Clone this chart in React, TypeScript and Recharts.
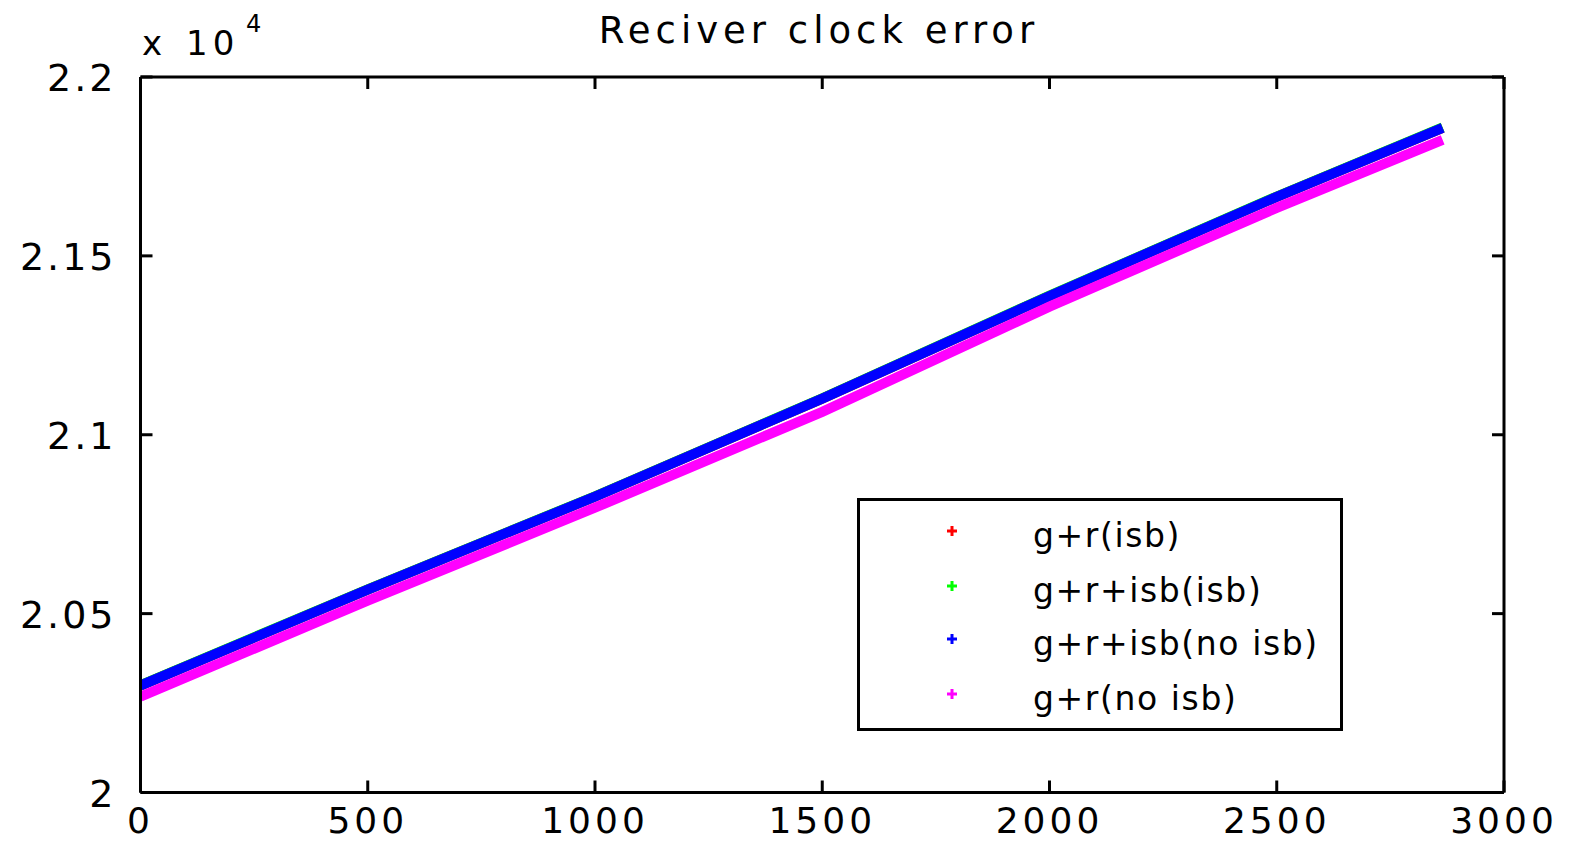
import React from "react";
import { LineChart, Line, XAxis, YAxis, Legend } from "recharts";

// Epochs (s) and receiver clock error estimates (m) for each processing mode
const epochs = [0, 500, 1000, 1500, 2000, 2500, 2865];
const grIsb = [20299, 20567, 20827, 21101, 21388, 21665, 21858];
const grIsbIsb = [20300, 20568, 20828, 21102, 21389, 21666, 21859];
const grIsbNoIsb = [20299, 20567, 20827, 21101, 21388, 21665, 21858];
const grNoIsb = [20268, 20536, 20796, 21064, 21358, 21634, 21824];

const xTicks = [0, 500, 1000, 1500, 2000, 2500, 3000];
const yTicks = [20000, 20500, 21000, 21500, 22000];
const yTickLabels = ["2", "2.05", "2.1", "2.15", "2.2"];

const seriesNames = ["g+r(isb)", "g+r+isb(isb)", "g+r+isb(no isb)", "g+r(no isb)"];
const seriesColors = ["#ff0000", "#00ff00", "#0000ff", "#ff00ff"];

const data = epochs.map((t, i) => ({
  t,
  a: grIsb[i],
  b: grIsbIsb[i],
  c: grIsbNoIsb[i],
  d: grNoIsb[i],
}));

const FONT = "'DejaVu Sans', sans-serif";
const TICK = 12;

const LeftTick = (props: any) => {
  const { x, y, payload } = props;
  const idx = yTicks.indexOf(payload.value);
  return (
    <g>
      <line x1={x} x2={x + TICK} y1={y} y2={y} stroke="#000" strokeWidth={3} />
      <text x={x - 24} y={y + 14} textAnchor="end" fontFamily={FONT} fontSize={38} letterSpacing={3} fill="#000">
        {idx >= 0 ? yTickLabels[idx] : ""}
      </text>
    </g>
  );
};

const RightTick = (props: any) => {
  const { x, y } = props;
  return <line x1={x - TICK} x2={x} y1={y} y2={y} stroke="#000" strokeWidth={3} />;
};

const BottomTick = (props: any) => {
  const { x, y, payload } = props;
  return (
    <g>
      <line x1={x} x2={x} y1={y} y2={y - TICK} stroke="#000" strokeWidth={3} />
      <text x={x} y={y + 40} textAnchor="middle" fontFamily={FONT} fontSize={36} letterSpacing={4} fill="#000">
        {payload.value}
      </text>
    </g>
  );
};

const TopTick = (props: any) => {
  const { x, y } = props;
  return <line x1={x} x2={x} y1={y} y2={y + TICK} stroke="#000" strokeWidth={3} />;
};

const LegendBox = (props: any) => {
  const items = (props.payload || []).slice();
  items.sort((p: any, q: any) => seriesNames.indexOf(p.value) - seriesNames.indexOf(q.value));
  const baselines = [49, 104, 157, 212];
  return (
    <svg width={486} height={233} style={{ display: "block" }}>
      <rect x={1.5} y={1.5} width={483} height={230} fill="#fff" stroke="#000" strokeWidth={3} />
      {items.map((it: any, i: number) => (
        <g key={i}>
          <line x1={90} x2={100} y1={baselines[i] - 16} y2={baselines[i] - 16} stroke={it.color} strokeWidth={3} />
          <line x1={95} x2={95} y1={baselines[i] - 21} y2={baselines[i] - 11} stroke={it.color} strokeWidth={3} />
          <text x={176} y={baselines[i]} fontFamily={FONT} fontSize={33} letterSpacing={1.6} fill="#000">
            {it.value}
          </text>
        </g>
      ))}
    </svg>
  );
};

const axisLineStyle = { stroke: "#000", strokeWidth: 3 };

export default function App() {
  return (
    <div style={{ position: "absolute", left: 0, top: 0, width: 1574, height: 841, background: "#fff" }}>
      <svg width={1574} height={841} style={{ position: "absolute", left: 0, top: 0 }}>
        <text x={819} y={43} textAnchor="middle" fontFamily={FONT} fontSize={37} letterSpacing={5} fill="#000">
          Reciver clock error
        </text>
        <text x={142} y={55} fontFamily={FONT} fontSize={34} fill="#000">
          x
        </text>
        <text x={186} y={55} fontFamily={FONT} fontSize={34} letterSpacing={5} fill="#000">
          10
        </text>
        <text x={246} y={32} fontFamily={FONT} fontSize={24} fill="#000">
          4
        </text>
      </svg>
      <div style={{ position: "absolute", left: 0, top: 0 }}>
        <LineChart
          width={1574}
          height={841}
          data={data}
          margin={{ top: 47, left: 80.5, right: 10, bottom: 18.5 }}
        >
          <XAxis
            dataKey="t"
            type="number"
            domain={[0, 3000]}
            ticks={xTicks}
            interval={0}
            height={30}
            tickSize={0}
            tickMargin={0}
            tickLine={false}
            axisLine={axisLineStyle}
            tick={<BottomTick />}
            allowDataOverflow
          />
          <XAxis
            xAxisId="top"
            orientation="top"
            dataKey="t"
            type="number"
            domain={[0, 3000]}
            ticks={xTicks}
            interval={0}
            height={30}
            tickSize={0}
            tickMargin={0}
            tickLine={false}
            axisLine={axisLineStyle}
            tick={<TopTick />}
            allowDataOverflow
          />
          <YAxis
            type="number"
            domain={[20000, 22000]}
            ticks={yTicks}
            interval={0}
            width={60}
            tickSize={0}
            tickMargin={0}
            tickLine={false}
            axisLine={axisLineStyle}
            tick={<LeftTick />}
            allowDataOverflow
          />
          <YAxis
            yAxisId="right"
            orientation="right"
            type="number"
            domain={[20000, 22000]}
            ticks={yTicks}
            interval={0}
            width={60}
            tickSize={0}
            tickMargin={0}
            tickLine={false}
            axisLine={axisLineStyle}
            tick={<RightTick />}
            allowDataOverflow
          />
          {["a", "b", "c", "d"].map((k, i) => (
            <Line
              key={k}
              dataKey={k}
              name={seriesNames[i]}
              stroke={seriesColors[i]}
              strokeWidth={10}
              dot={false}
              activeDot={false}
              type="linear"
              isAnimationActive={false}
            />
          ))}
          <Legend
            layout="horizontal"
            verticalAlign="middle"
            align="center"
            content={<LegendBox />}
            wrapperStyle={{ position: "absolute", left: 857, top: 498, width: 486, height: 233 }}
          />
        </LineChart>
      </div>
    </div>
  );
}
